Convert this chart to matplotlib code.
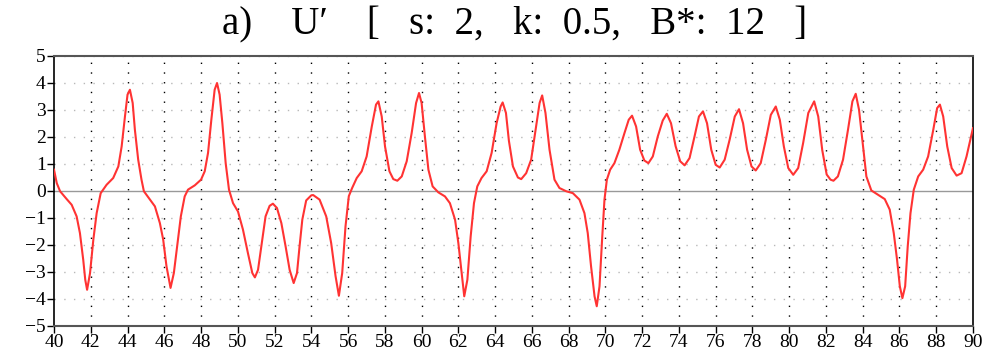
import numpy as np
import matplotlib
matplotlib.use("Agg")
import matplotlib.pyplot as plt

# values
t = [40.0, 40.15, 40.33, 40.69, 40.96, 41.23, 41.41, 41.59, 41.7, 41.8, 41.96, 42.14, 42.32, 42.54, 42.86,
     43.22, 43.5, 43.68, 43.86, 44.0, 44.13, 44.28, 44.4, 44.58, 44.76, 44.89, 45.22, 45.49, 45.76, 45.94,
     46.12, 46.34, 46.52, 46.7, 46.9, 47.11, 47.29, 47.66, 48.0, 48.2, 48.38, 48.56, 48.74, 48.87, 49.01,
     49.16, 49.34, 49.52, 49.74, 50.01, 50.28, 50.55, 50.79, 50.93, 51.1, 51.28, 51.51, 51.73, 51.91, 52.13,
     52.37, 52.6, 52.82, 53.04, 53.22, 53.36, 53.51, 53.72, 54.0, 54.1, 54.45, 54.81, 55.08, 55.32, 55.5,
     55.68, 55.86, 56.04, 56.22, 56.47, 56.74, 57.01, 57.29, 57.52, 57.65, 57.83, 58.01, 58.25, 58.46, 58.68,
     58.92, 59.19, 59.46, 59.7, 59.86, 60.0, 60.18, 60.37, 60.6, 60.91, 61.27, 61.54, 61.82, 62.0, 62.18,
     62.32, 62.49, 62.67, 62.85, 63.03, 63.26, 63.54, 63.81, 64.08, 64.3, 64.41, 64.59, 64.75, 64.97, 65.24,
     65.42, 65.69, 65.96, 66.2, 66.42, 66.56, 66.74, 66.96, 67.23, 67.5, 67.87, 68.23, 68.59, 68.86, 69.04,
     69.22, 69.41, 69.53, 69.68, 69.82, 69.95, 70.08, 70.26, 70.49, 70.76, 71.04, 71.27, 71.45, 71.67, 71.89,
     72.12, 72.34, 72.58, 72.85, 73.12, 73.34, 73.57, 73.82, 74.07, 74.31, 74.58, 74.85, 75.09, 75.31, 75.53,
     75.76, 76.0, 76.22, 76.49, 76.76, 77.04, 77.27, 77.49, 77.71, 77.95, 78.18, 78.45, 78.73, 79.0, 79.27,
     79.49, 79.71, 79.95, 80.22, 80.49, 80.76, 81.04, 81.36, 81.58, 81.8, 82.04, 82.25, 82.41, 82.65, 82.93,
     83.2, 83.44, 83.62, 83.8, 83.98, 84.2, 84.47, 84.84, 85.2, 85.47, 85.69, 85.87, 86.02, 86.16, 86.31,
     86.45, 86.6, 86.78, 87.02, 87.29, 87.56, 87.84, 88.05, 88.2, 88.38, 88.6, 88.84, 89.11, 89.38, 89.65,
     90.0]
u = [0.78, 0.28, -0.02, -0.31, -0.52, -0.95, -1.57, -2.56, -3.3, -3.67, -3.05, -1.81, -0.83, -0.09, 0.22,
     0.47, 0.9, 1.64, 2.75, 3.56, 3.74, 3.25, 2.26, 1.15, 0.41, -0.02, -0.33, -0.58, -1.2, -1.81,
     -2.8, -3.6, -3.05, -2.06, -0.95, -0.21, 0.04, 0.2, 0.41, 0.72, 1.4, 2.63, 3.74, 3.99, 3.56,
     2.5, 1.02, 0.04, -0.46, -0.77, -1.44, -2.31, -3.05, -3.21, -2.93, -2.06, -0.95, -0.56, -0.48, -0.64,
     -1.2, -2.06, -2.93, -3.42, -3.05, -2.06, -1.07, -0.36, -0.17, -0.16, -0.33, -0.95, -1.94, -3.17, -3.89,
     -3.05, -1.32, -0.2, 0.1, 0.47, 0.72, 1.27, 2.38, 3.19, 3.31, 2.75, 1.64, 0.72, 0.43, 0.37,
     0.53, 1.09, 2.14, 3.25, 3.62, 3.25, 2.01, 0.78, 0.16, -0.06, -0.21, -0.46, -1.07, -1.94, -3.05,
     -3.91, -3.3, -1.69, -0.46, 0.16, 0.47, 0.72, 1.4, 2.5, 3.12, 3.27, 2.88, 1.85, 0.9, 0.49,
     0.43, 0.65, 1.15, 2.26, 3.25, 3.53, 2.88, 1.52, 0.41, 0.1, -0.02, -0.09, -0.33, -0.83, -1.57,
     -2.8, -3.91, -4.28, -3.54, -1.81, -0.33, 0.41, 0.78, 1.02, 1.52, 2.14, 2.63, 2.78, 2.38, 1.52,
     1.12, 1.02, 1.27, 2.01, 2.6, 2.85, 2.5, 1.65, 1.09, 0.94, 1.21, 2.01, 2.75, 2.94, 2.5,
     1.52, 0.96, 0.86, 1.15, 1.89, 2.75, 3.02, 2.5, 1.52, 0.9, 0.75, 1.02, 1.89, 2.81, 3.12,
     2.63, 1.64, 0.84, 0.59, 0.84, 1.77, 2.88, 3.31, 2.75, 1.5, 0.6, 0.41, 0.37, 0.53, 1.15,
     2.26, 3.31, 3.59, 3.0, 1.89, 0.53, 0.01, -0.15, -0.31, -0.7, -1.57, -2.56, -3.54, -3.98, -3.54,
     -2.06, -0.83, 0.04, 0.53, 0.78, 1.27, 2.26, 3.06, 3.19, 2.75, 1.64, 0.84, 0.56, 0.65, 1.27,
     2.32]

xticks = list(range(40, 91, 2))
yticks = list(range(-5, 6))

plt.rcParams['font.family'] = ['Liberation Serif', 'DejaVu Serif']

fig = plt.figure(figsize=(10.04, 3.53), dpi=100)
ax = fig.add_axes([0.0538, 0.0773, 0.9153, 0.7648])

# grid
for x in xticks[1:-1]:
    ax.axvline(x, color='black', lw=1.0, ls=(0, (1, 6)), zorder=1)
for y in yticks:
    if y != 0:
        ax.axhline(y, color='#b8b8b8', lw=1.0, ls=(0, (1, 6)), zorder=1)
ax.axhline(0, color='#999999', lw=1.0, zorder=1)

ax.plot(t, u, color='#ff3333', lw=1.5, zorder=3)

ax.set_xlim(40, 90)
ax.set_ylim(-5, 5)
ax.set_xticks(xticks)
ax.set_yticks(yticks)
ax.set_yticklabels([str(v).replace('-', '\u2212') for v in yticks])
ax.tick_params(direction='out', length=5, width=1, pad=1)
ax.tick_params(axis='x', labelsize=14, pad=1)
ax.tick_params(axis='y', labelsize=14)

for side in ['top', 'bottom']:
    ax.spines[side].set_color('#555555')
    ax.spines[side].set_linewidth(1.5)
for side in ['left', 'right']:
    ax.spines[side].set_color('black')
    ax.spines[side].set_linewidth(1.2)

fig.text(0.513, 0.93, 'a)    U\u2032    [   s:  2,   k:  0.5,   B*:  12   ]',
         ha='center', va='center', fontsize=28)

fig.savefig('out.png', dpi=100)
